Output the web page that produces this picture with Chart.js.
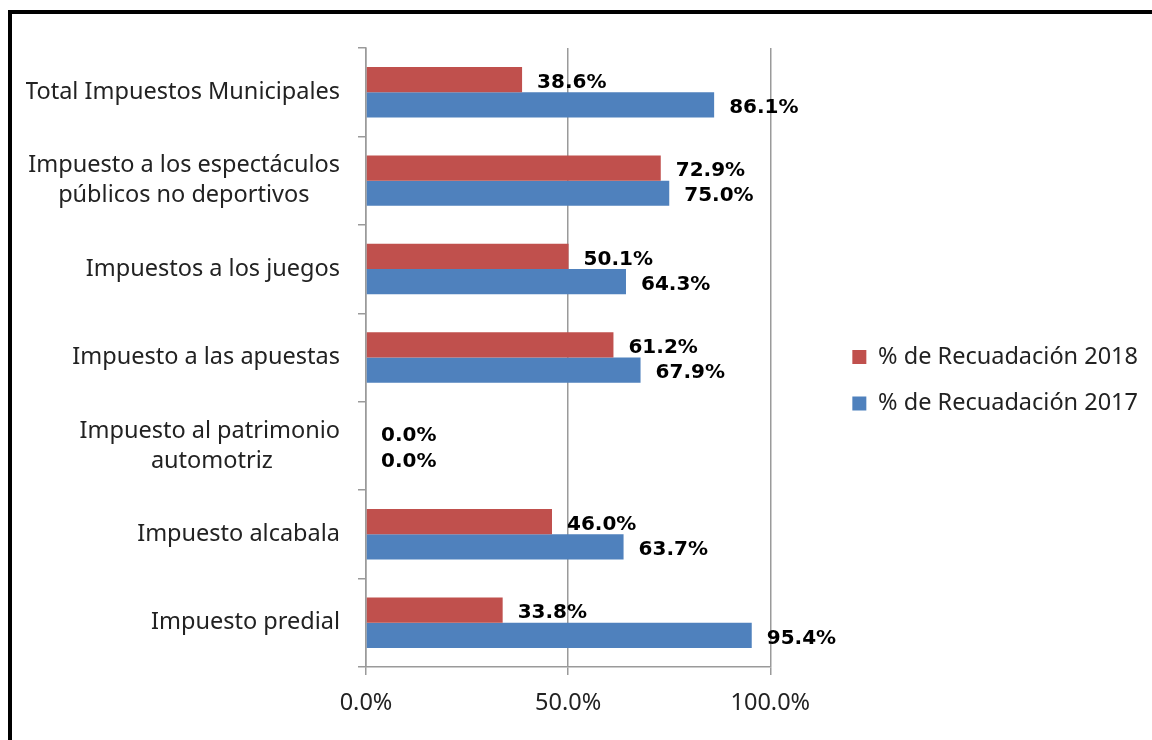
<!DOCTYPE html>
<html>
<head>
<meta charset="utf-8">
<script src="https://cdn.jsdelivr.net/npm/chart.js@4.4.1/dist/chart.umd.min.js"></script>
<style>
  body { margin: 0; background: #fff; overflow: hidden; }
  #frame { position: absolute; left: 8px; top: 10px; width: 1170px; height: 760px; border: 4px solid #000; }
  #chart { position: absolute; left: 0; top: 0; }
</style>
</head>
<body>
<div id="frame"></div>
<canvas id="chart" width="1152" height="740"></canvas>
<script>
// categories, top to bottom
var CATEGORIES = [
    'Total Impuestos Municipales',
    ['Impuesto a los espectáculos', 'públicos no deportivos'],
    'Impuestos a los juegos',
    'Impuesto a las apuestas',
    ['Impuesto al patrimonio', 'automotriz'],
    'Impuesto alcabala',
    'Impuesto predial'
];
var RECAUDO_2018 = [38.6, 72.9, 50.1, 61.2, 0.0, 46.0, 33.8];
var RECAUDO_2017 = [86.1, 75.0, 64.3, 67.9, 0.0, 63.7, 95.4];
var X_TICKS = [0, 50, 100];

var AXIS_FONT = { family: '"Noto Sans"', size: 23.5, lineHeight: 1.28 };

// centre the lines of two-line labels inside a right aligned block
var measure = document.createElement('canvas').getContext('2d');
measure.font = '23.5px "Noto Sans"';
function centerLines(label) {
    if (!Array.isArray(label)) return label;
    var widths = label.map(function (l) { return measure.measureText(l).width; });
    var maxW = Math.max.apply(null, widths);
    var sp = measure.measureText(' ').width;
    return label.map(function (l, i) {
        var n = Math.round((maxW - widths[i]) / 2 / sp);
        return l + ' '.repeat(n);
    });
}

// bold value labels right of each bar
var valueLabels = {
    id: 'valueLabels',
    afterDatasetsDraw: function (chart) {
        var ctx = chart.ctx;
        ctx.save();
        ctx.font = 'bold 20px "DejaVu Sans"';
        ctx.fillStyle = '#000';
        ctx.textBaseline = 'middle';
        chart.data.datasets.forEach(function (ds, i) {
            chart.getDatasetMeta(i).data.forEach(function (bar, j) {
                ctx.fillText(ds.data[j].toFixed(1) + '%', bar.x + 15, bar.y + 3);
            });
        });
        ctx.restore();
    }
};

// empty layout box that keeps the legend away from the plot
var legendGap = {
    id: 'legendGap',
    beforeInit: function (chart) {
        Chart.layouts.addBox(chart, {
            position: 'right',
            weight: 0,
            fullSize: false,
            options: {},
            isHorizontal: function () { return false; },
            update: function (maxWidth, maxHeight) {
                this.width = 59;
                this.height = maxHeight;
            },
            draw: function () {}
        });
    }
};

window.onload = function () {
    var ctx = document.getElementById('chart').getContext('2d');
    new Chart(ctx, {
        type: 'bar',
        data: {
            labels: CATEGORIES,
            datasets: [{
                label: '% de Recuadación 2018',
                data: RECAUDO_2018,
                backgroundColor: '#C0504D',
                categoryPercentage: 0.57,
                barPercentage: 1.0
            }, {
                label: '% de Recuadación 2017',
                data: RECAUDO_2017,
                backgroundColor: '#4F81BD',
                categoryPercentage: 0.57,
                barPercentage: 1.0
            }]
        },
        options: {
            indexAxis: 'y',
            responsive: false,
            animation: false,
            layout: { padding: { left: 26, right: 4, top: 48, bottom: 9 } },
            plugins: {
                tooltip: { enabled: false },
                legend: {
                    position: 'right',
                    fullSize: false,
                    maxWidth: 400,
                    // blank title only lowers the two items to mid height
                    title: { display: true, text: '', font: { size: 5.5, lineHeight: 1 }, padding: 20 },
                    labels: {
                        boxWidth: 14,
                        boxHeight: 14,
                        padding: 23,
                        color: '#222',
                        font: { family: '"Noto Sans"', size: 23.5 }
                    }
                }
            },
            scales: {
                x: {
                    min: 0,
                    max: 100,
                    afterBuildTicks: function (axis) {
                        axis.ticks = X_TICKS.map(function (v) { return { value: v }; });
                    },
                    ticks: {
                        color: '#222',
                        font: AXIS_FONT,
                        padding: 13,
                        callback: function (v) { return Number(v).toFixed(1) + '%'; }
                    },
                    grid: { color: '#9a9a9a', lineWidth: 1.5, tickLength: 8 },
                    border: { color: '#9a9a9a', width: 1.5 }
                },
                y: {
                    afterFit: function (axis) { axis.width = 340; },
                    ticks: {
                        color: '#222',
                        font: AXIS_FONT,
                        padding: 18,
                        callback: function (v, i) { return centerLines(CATEGORIES[i]); }
                    },
                    grid: { offset: true, drawOnChartArea: false, color: '#9a9a9a', lineWidth: 1.5, tickLength: 8 },
                    border: { color: '#9a9a9a', width: 1.5 }
                }
            }
        },
        plugins: [valueLabels, legendGap]
    });
};
</script>
</body>
</html>
